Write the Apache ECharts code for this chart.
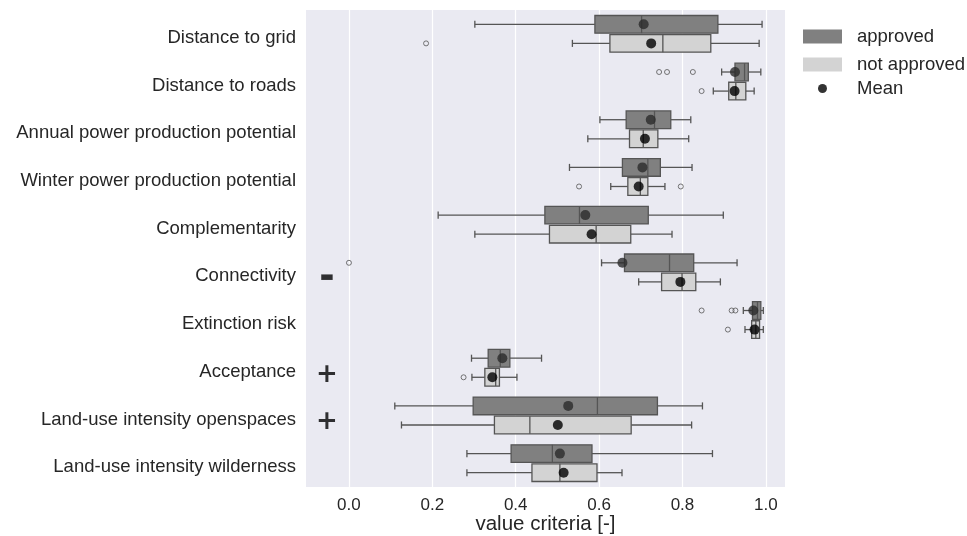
<!DOCTYPE html>
<html><head><meta charset="utf-8">
<script src="https://cdn.jsdelivr.net/npm/echarts@6/dist/echarts.min.js"></script>
<style>html,body{margin:0;padding:0;background:#fff}#c{width:967px;height:536px}</style>
</head><body><div id="c"></div>
<script>
const categories = [
  'Distance to grid', 'Distance to roads', 'Annual power production potential',
  'Winter power production potential', 'Complementarity', 'Connectivity',
  'Extinction risk', 'Acceptance', 'Land-use intensity openspaces', 'Land-use intensity wilderness'
];
// [whisker low, Q1, median, Q3, whisker high]
const approvedBox = [
  [0.302, 0.590, 0.702, 0.885, 0.991],
  [0.894, 0.926, 0.949, 0.958, 0.988],
  [0.602, 0.665, 0.733, 0.772, 0.820],
  [0.529, 0.656, 0.717, 0.747, 0.823],
  [0.214, 0.470, 0.553, 0.718, 0.898],
  [0.606, 0.661, 0.769, 0.827, 0.931],
  [0.946, 0.968, 0.980, 0.988, 0.994],
  [0.294, 0.334, 0.363, 0.386, 0.462],
  [0.110, 0.298, 0.596, 0.740, 0.848],
  [0.283, 0.389, 0.488, 0.583, 0.872]
];
const notApprovedBox = [
  [0.536, 0.626, 0.753, 0.868, 0.984],
  [0.874, 0.911, 0.928, 0.952, 0.972],
  [0.573, 0.673, 0.706, 0.741, 0.815],
  [0.628, 0.669, 0.699, 0.717, 0.758],
  [0.302, 0.481, 0.593, 0.676, 0.775],
  [0.695, 0.750, 0.799, 0.832, 0.891],
  [0.950, 0.966, 0.976, 0.985, 0.994],
  [0.295, 0.326, 0.352, 0.361, 0.403],
  [0.126, 0.349, 0.434, 0.677, 0.822],
  [0.283, 0.439, 0.506, 0.595, 0.655]
];
const approvedMean = [0.707, 0.926, 0.724, 0.704, 0.567, 0.656, 0.970, 0.368, 0.526, 0.506];
const notApprovedMean = [0.725, 0.925, 0.710, 0.695, 0.582, 0.795, 0.973, 0.344, 0.501, 0.515];
const approvedOutliers = [
  ['Distance to roads', 0.744], ['Distance to roads', 0.763], ['Distance to roads', 0.825],
  ['Connectivity', 0.0],
  ['Extinction risk', 0.846], ['Extinction risk', 0.918], ['Extinction risk', 0.927]
];
const notApprovedOutliers = [
  ['Distance to grid', 0.185],
  ['Distance to roads', 0.846],
  ['Winter power production potential', 0.552], ['Winter power production potential', 0.796],
  ['Extinction risk', 0.909],
  ['Acceptance', 0.275]
];
const signs = [['Connectivity', '\u25AC'], ['Acceptance', '+'], ['Land-use intensity openspaces', '+']];
const xTicks = [0.0, 0.2, 0.4, 0.6, 0.8, 1.0];

const GRID = {left: 306, right: 182, top: 10, bottom: 49};
const BAND = (536 - GRID.top - GRID.bottom) / categories.length;
const OFF = BAND * 0.2;
const EDGE = '#555555';
const FONT = 'Liberation Sans, Arial, sans-serif';
const SIGN_X = -0.053;
const PLUS_STYLE = {fontSize: 26, fontWeight: 'bold', offset: [0, 7]};
const MINUS_STYLE = {fontSize: 15, fontWeight: 'normal', offset: [0, 5]};

function boxRender(side, fill) {
  return function (params, api) {
    const cat = api.value(0);
    const band = api.size([0, 1])[1];
    const yc = api.coord([0, cat])[1] + side * band * 0.2;
    const h = band * 0.37;
    const cap = h * 0.2;
    const x = i => api.coord([api.value(i), cat])[0];
    const wl = x(1), q1 = x(2), md = x(3), q3 = x(4), wh = x(5);
    const ls = {stroke: EDGE, lineWidth: 1.3};
    return {type: 'group', children: [
      {type: 'line', shape: {x1: wl, y1: yc, x2: q1, y2: yc}, style: ls},
      {type: 'line', shape: {x1: q3, y1: yc, x2: wh, y2: yc}, style: ls},
      {type: 'line', shape: {x1: wl, y1: yc - cap, x2: wl, y2: yc + cap}, style: ls},
      {type: 'line', shape: {x1: wh, y1: yc - cap, x2: wh, y2: yc + cap}, style: ls},
      {type: 'rect', shape: {x: q1, y: yc - h / 2, width: q3 - q1, height: h}, style: {fill: fill, stroke: EDGE, lineWidth: 1.3}},
      {type: 'line', shape: {x1: md, y1: yc - h / 2, x2: md, y2: yc + h / 2}, style: ls}
    ]};
  };
}

const chart = echarts.init(document.getElementById('c'));
chart.setOption({
  animation: false,
  backgroundColor: '#ffffff',
  textStyle: {fontFamily: FONT},
  grid: Object.assign({backgroundColor: '#eaeaf2', show: true, borderWidth: 0, containLabel: false, outerBoundsMode: 'none'}, GRID),
  legend: [
    {
      orient: 'vertical', left: 803, top: 27, padding: 0, itemWidth: 39, itemHeight: 14, itemGap: 9,
      selectedMode: false,
      textStyle: {fontSize: 18.5, color: '#262626', fontFamily: FONT, padding: [0, 0, 0, 10]},
      data: [
        {name: 'approved', icon: 'rect', itemStyle: {color: '#808080', borderWidth: 0}},
        {name: 'not approved', icon: 'rect', itemStyle: {color: '#d3d3d3', borderWidth: 0}}
      ]
    },
    {
      orient: 'vertical', left: 818, top: 79, padding: 0, itemWidth: 9, itemHeight: 9,
      selectedMode: false,
      textStyle: {fontSize: 18.5, color: '#262626', fontFamily: FONT, padding: [0, 0, 0, 25]},
      data: [{name: 'Mean', icon: 'circle', itemStyle: {color: '#000000', borderWidth: 0}}]
    }
  ],
  xAxis: {
    type: 'value', min: -0.103, max: 1.046,
    name: 'value criteria [-]', nameLocation: 'middle', nameGap: 27, nameMoveOverlap: false,
    nameTextStyle: {fontSize: 20.5, color: '#262626', fontFamily: FONT},
    axisLine: {show: false}, axisTick: {show: false, customValues: xTicks},
    axisLabel: {customValues: xTicks, fontSize: 17, color: '#262626', margin: 10, fontFamily: FONT,
      formatter: v => v.toFixed(1)},
    splitLine: {show: true, lineStyle: {color: '#ffffff', width: 1.2}}
  },
  yAxis: {
    type: 'category', data: categories, inverse: true,
    axisLine: {show: false}, axisTick: {show: false},
    axisLabel: {margin: 10, formatter: v => '{a|' + v + '}',
      rich: {a: {fontSize: 18.5, color: '#262626', fontFamily: FONT, padding: [8, 0, 0, 0]}}},
    splitLine: {show: false}
  },
  series: [
    {
      name: 'approved', type: 'custom', z: 2,
      itemStyle: {color: '#808080'},
      encode: {x: [1, 2, 3, 4, 5], y: 0},
      data: approvedBox.map((b, i) => [i].concat(b)),
      renderItem: boxRender(-1, '#808080')
    },
    {
      name: 'not approved', type: 'custom', z: 2,
      itemStyle: {color: '#d3d3d3'},
      encode: {x: [1, 2, 3, 4, 5], y: 0},
      data: notApprovedBox.map((b, i) => [i].concat(b)),
      renderItem: boxRender(1, '#d3d3d3')
    },
    {
      name: 'approved outliers', type: 'scatter', z: 3, symbol: 'circle', symbolSize: 5,
      symbolOffset: [0, -OFF],
      itemStyle: {color: 'rgba(0,0,0,0)', borderColor: EDGE, borderWidth: 1},
      data: approvedOutliers.map(o => [o[1], o[0]])
    },
    {
      name: 'not approved outliers', type: 'scatter', z: 3, symbol: 'circle', symbolSize: 5,
      symbolOffset: [0, OFF],
      itemStyle: {color: 'rgba(0,0,0,0)', borderColor: EDGE, borderWidth: 1},
      data: notApprovedOutliers.map(o => [o[1], o[0]])
    },
    {
      name: 'Mean', type: 'scatter', z: 4, symbol: 'circle', symbolSize: 10,
      symbolOffset: [0, -OFF],
      itemStyle: {color: '#2a2a2a'},
      data: approvedMean.map((v, i) => [v, categories[i]])
    },
    {
      name: 'Mean', type: 'scatter', z: 4, symbol: 'circle', symbolSize: 10,
      symbolOffset: [0, OFF],
      itemStyle: {color: '#000000'},
      data: notApprovedMean.map((v, i) => [v, categories[i]])
    },
    {
      name: 'signs', type: 'scatter', z: 5, symbol: 'circle', symbolSize: 1, silent: true,
      itemStyle: {color: 'rgba(0,0,0,0)'},
      label: {show: true, position: 'inside', color: '#000000', fontFamily: 'DejaVu Sans, sans-serif'},
      data: signs.map(s => ({
        value: [SIGN_X, s[0]],
        label: Object.assign({formatter: s[1]}, s[1] === '+' ? PLUS_STYLE : MINUS_STYLE)
      }))
    }
  ]
});
</script>
</body></html>
